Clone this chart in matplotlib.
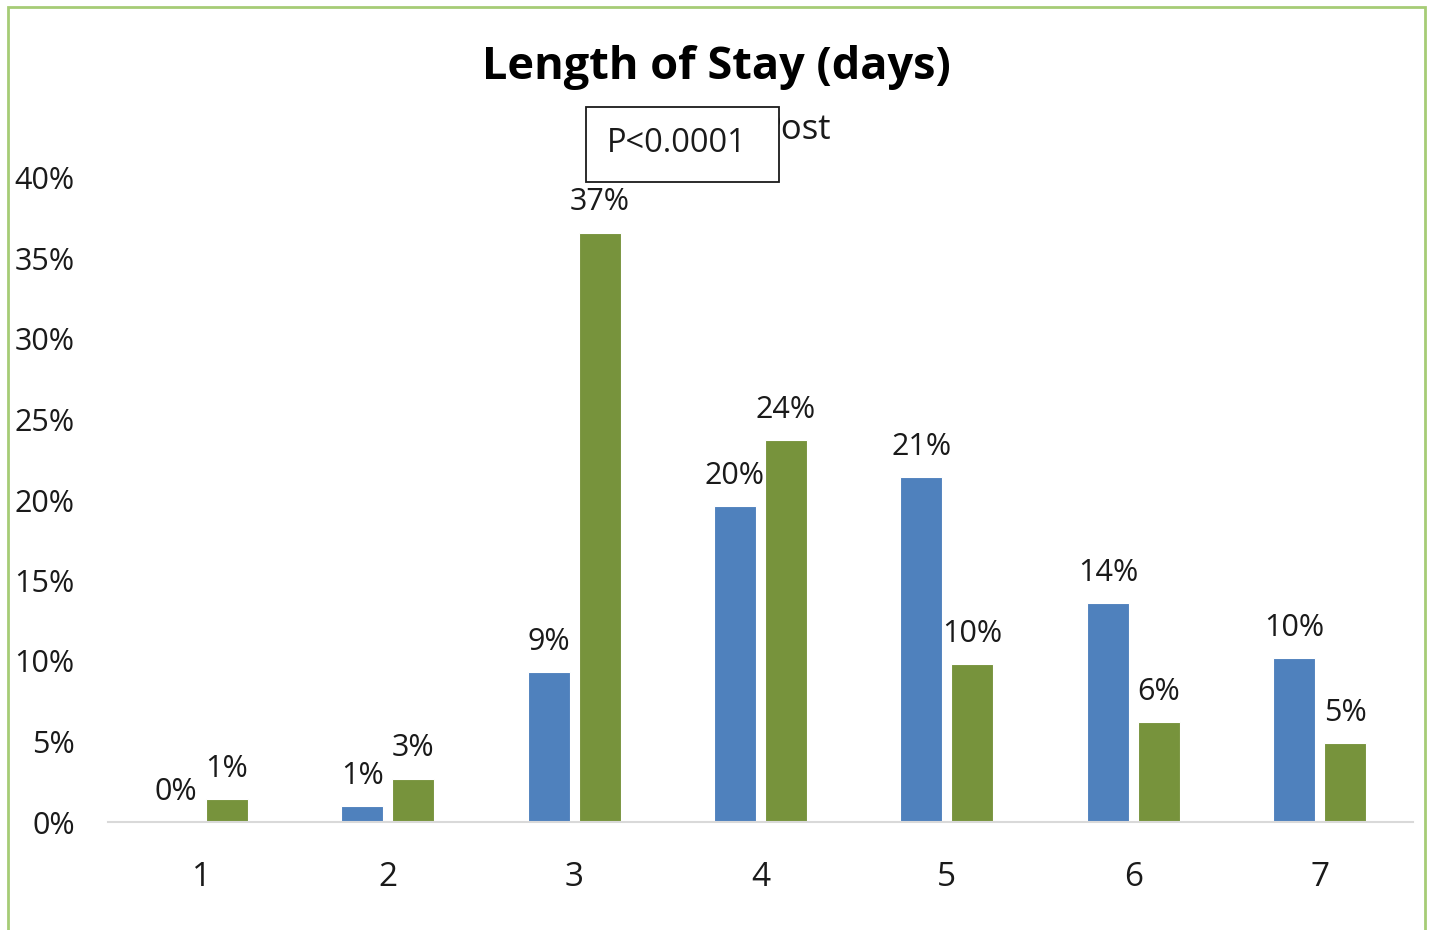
import matplotlib.pyplot as plt
import numpy as np
from matplotlib.patches import Rectangle
from matplotlib.ticker import PercentFormatter

# Data (percent of patients)
days = ['1', '2', '3', '4', '5', '6', '7']
pre = [0.0, 1.0, 9.3, 19.6, 21.4, 13.6, 10.2]
post = [1.4, 2.7, 36.6, 23.7, 9.8, 6.2, 4.9]
series_names = ['Pre', 'Post']
p_text = 'P<0.0001'

plt.rcParams['font.family'] = ['Open Sans', 'DejaVu Sans']
txt = '#1a1a1a'

fig = plt.figure(figsize=(14.33, 9.30), dpi=100)
ax = fig.add_axes([108 / 1433, 108 / 930, 1305 / 1433, 644 / 930])

x = np.arange(len(days))
w = 0.225
off = 0.137
b1 = ax.bar(x - off, pre, w, color='#4f81bd', edgecolor='white', linewidth=0.8, label=series_names[0])
b2 = ax.bar(x + off, post, w, color='#77933c', edgecolor='white', linewidth=0.8, label=series_names[1])

for bars, vals in ((b1, pre), (b2, post)):
    for r, v in zip(bars, vals):
        ax.annotate(f'{v:.0f}%', (r.get_x() + r.get_width() / 2, v),
                    xytext=(0, 11), textcoords='offset points',
                    ha='center', va='bottom', fontsize=22, color=txt)

ax.set_xlim(-0.5, len(days) - 0.5)
ax.set_ylim(0, 40)
ax.set_yticks(np.arange(0, 41, 5))
ax.yaxis.set_major_formatter(PercentFormatter(decimals=0))
ax.set_xticks(x)
ax.set_xticklabels(days)
ax.tick_params(axis='y', length=0, pad=24, labelsize=22, labelcolor=txt)
ax.tick_params(axis='x', length=0, pad=28, labelsize=24, labelcolor=txt)
for s in ('top', 'right', 'left'):
    ax.spines[s].set_visible(False)
ax.spines['bottom'].set_color('#d9d9d9')
ax.spines['bottom'].set_linewidth(1.5)

# legend sits behind the p-value box in the original
leg = fig.legend(handles=[b1, b2], loc='center', bbox_to_anchor=(708 / 1433, 1 - 130 / 930),
                 ncol=2, frameon=False, fontsize=25, handlelength=0.6, handleheight=0.6,
                 columnspacing=1.5, handletextpad=0.4, labelcolor=txt)

fig.add_artist(Rectangle((586 / 1433, 1 - 182 / 930), 193 / 1433, 75 / 930,
                         transform=fig.transFigure, facecolor='white',
                         edgecolor='#1a1a1a', linewidth=1.3, zorder=10))
fig.text(677 / 1433, 1 - 144 / 930, p_text, ha='center', va='center',
         fontsize=23.5, color=txt, zorder=11)

fig.text(716 / 1433, 1 - 67 / 930, 'Length of Stay (days)', ha='center', va='center',
         fontsize=32.5, fontweight='bold', color='black')

fig.add_artist(Rectangle((8 / 1433, -0.05), 1417 / 1433, 1.05 - 7 / 930,
                         transform=fig.transFigure, fill=False,
                         edgecolor='#a6cc76', linewidth=2))

fig.savefig('out.png', dpi=100)
